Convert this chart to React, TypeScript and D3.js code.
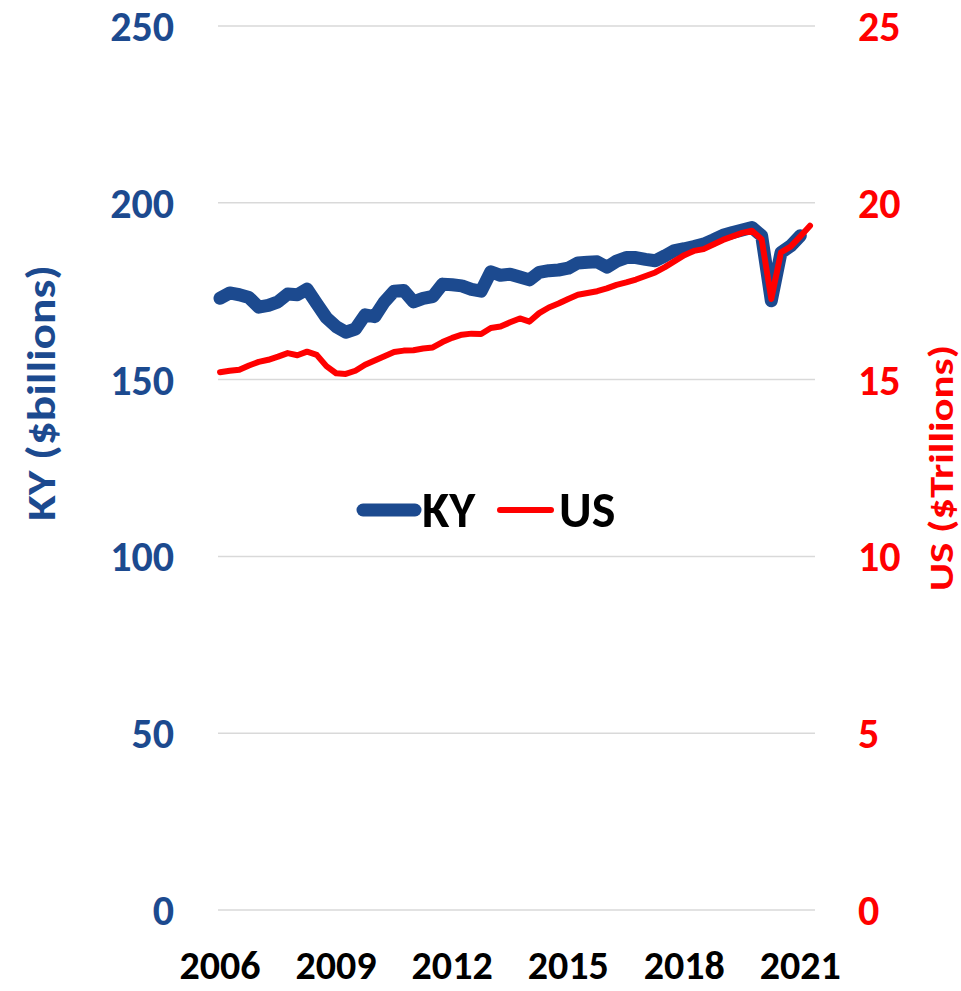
import React from "react";
import * as d3 from "d3";

const years = ["2006", "2009", "2012", "2015", "2018", "2021"];
const yearLabelIdx = [0, 12, 24, 36, 48, 60];
const kyTicks = [0, 50, 100, 150, 200, 250];
const usTicks = [0, 5, 10, 15, 20, 25];

// Quarterly, 2006Q1 .. 2021Q1 (KY, $billions)
const kyValues = [
  173.0, 174.5, 174.0, 173.2, 170.5, 171.0, 172.0, 174.2, 174.0, 175.6,
  171.5, 167.5, 165.0, 163.4, 164.3, 168.3, 167.8, 172.0, 175.0, 175.2,
  172.0, 173.0, 173.5, 177.0, 176.8, 176.5, 175.5, 175.0, 180.5, 179.5,
  179.8, 179.0, 178.2, 180.3, 180.8, 181.0, 181.5, 183.0, 183.2, 183.3,
  181.8, 183.5, 184.5, 184.5, 184.0, 183.6, 185.0, 186.5, 187.0, 187.6,
  188.3, 189.5, 190.8, 191.6, 192.3, 193.0, 190.7, 172.3, 185.9, 187.8,
  190.7,
];

// Quarterly, 2006Q1 .. 2021Q2 (US, $trillions)
const usValues = [
  15.21, 15.25, 15.28, 15.4, 15.5, 15.56, 15.65, 15.75, 15.69, 15.79,
  15.7, 15.38, 15.18, 15.16, 15.25, 15.42, 15.54, 15.66, 15.78, 15.82,
  15.83, 15.88, 15.91, 16.06, 16.18, 16.27, 16.3, 16.29, 16.46, 16.5,
  16.62, 16.73, 16.64, 16.88, 17.04, 17.15, 17.28, 17.4, 17.45, 17.5,
  17.58, 17.68, 17.75, 17.83, 17.93, 18.03, 18.18, 18.35, 18.52, 18.64,
  18.69, 18.82, 18.95, 19.05, 19.15, 19.21, 18.97, 17.28, 18.6, 18.76,
  19.05, 19.35,
];

const BLUE = "#1C4A8F";
const RED = "#FF0000";
const FONT = "Carlito, 'Open Sans', sans-serif";

export default function App() {
  const x = d3.scaleLinear().domain([0, 61]).range([220, 810]);
  const yL = d3.scaleLinear().domain([0, 250]).range([910, 26]);
  const yR = d3.scaleLinear().domain([0, 25]).range([910, 26]);

  const kyLine = d3
    .line<number>()
    .x((_, i) => x(i))
    .y((d) => yL(d));
  const usLine = d3
    .line<number>()
    .x((_, i) => x(i))
    .y((d) => yR(d));

  return (
    <svg
      width={961}
      height={991}
      style={{ position: "absolute", left: 0, top: 0, background: "#fff" }}
      fontFamily={FONT}
      fontWeight="bold"
    >
      {kyTicks.map((t) => (
        <line
          key={"g" + t}
          x1={218}
          x2={815}
          y1={yL(t)}
          y2={yL(t)}
          stroke="#D9D9D9"
          strokeWidth={1.5}
        />
      ))}
      {kyTicks.map((t) => (
        <text
          key={"l" + t}
          x={174}
          y={yL(t) + 15}
          textAnchor="end"
          fill={BLUE}
          fontSize={42}
        >
          {t}
        </text>
      ))}
      {usTicks.map((t) => (
        <text
          key={"r" + t}
          x={858}
          y={yR(t) + 15}
          textAnchor="start"
          fill={RED}
          fontSize={42}
        >
          {t}
        </text>
      ))}
      {years.map((yr, k) => (
        <text
          key={yr}
          x={x(yearLabelIdx[k])}
          y={979}
          textAnchor="middle"
          fill="#000"
          fontSize={40}
        >
          {yr}
        </text>
      ))}
      <text
        transform="translate(55,393) rotate(-90)"
        textAnchor="middle"
        fill={BLUE}
        fontSize={40}
        textLength={256}
        lengthAdjust="spacingAndGlyphs"
      >
        KY ($billions)
      </text>
      <text
        transform="translate(953,468) rotate(-90)"
        textAnchor="middle"
        fill={RED}
        fontSize={35}
        textLength={246}
        lengthAdjust="spacingAndGlyphs"
      >
        US ($Trillions)
      </text>

      <path
        d={kyLine(kyValues) || ""}
        fill="none"
        stroke={BLUE}
        strokeWidth={13}
        strokeLinejoin="round"
        strokeLinecap="round"
      />
      <path
        d={usLine(usValues) || ""}
        fill="none"
        stroke={RED}
        strokeWidth={6}
        strokeLinejoin="round"
        strokeLinecap="round"
      />

      {/* legend */}
      <line
        x1={363}
        x2={415}
        y1={510}
        y2={510}
        stroke={BLUE}
        strokeWidth={13}
        strokeLinecap="round"
      />
      <text x={422} y={527} fontSize={50} fill="#000">
        KY
      </text>
      <line
        x1={500}
        x2={551}
        y1={510}
        y2={510}
        stroke={RED}
        strokeWidth={6}
        strokeLinecap="round"
      />
      <text x={559} y={527} fontSize={50} fill="#000">
        US
      </text>
    </svg>
  );
}
